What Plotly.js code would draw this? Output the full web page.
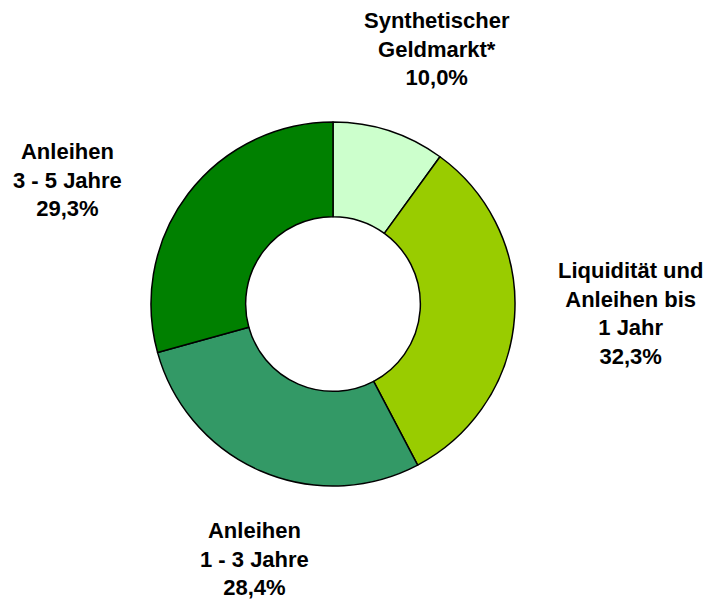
<!DOCTYPE html>
<html>
<head>
<meta charset="utf-8">
<script src="https://cdn.plot.ly/plotly-3.0.1.min.js"></script>
<style>html,body{margin:0;padding:0;background:#fff;}#chart{width:708px;height:603px;}</style>
</head>
<body>
<div id="chart"></div>
<script>
const categories = ["Synthetischer<br>Geldmarkt*", "Liquidität und<br>Anleihen bis<br>1 Jahr", "Anleihen<br>1 - 3 Jahre", "Anleihen<br>3 - 5 Jahre"];
const values = [10.0, 32.3, 28.4, 29.3];
const valueLabels = ["10,0%", "32,3%", "28,4%", "29,3%"];
const colors = ["#CCFFCC", "#99CC00", "#339966", "#008000"];
const labelPos = [[437, 49], [630, 313], [254, 559], [67, 180]];

const W = 708, H = 603;
const cx = 333, cy = 304, r = 182;

const trace = {
  type: "pie",
  values: values,
  labels: categories,
  sort: false,
  direction: "clockwise",
  rotation: 0,
  hole: 0.48,
  textinfo: "none",
  hoverinfo: "none",
  marker: {colors: colors, line: {color: "#000000", width: 1.5}},
  domain: {x: [(cx - r) / W, (cx + r) / W], y: [1 - (cy + r) / H, 1 - (cy - r) / H]},
  showlegend: false
};

const annotations = categories.map((c, i) => ({
  xref: "paper", yref: "paper",
  x: labelPos[i][0] / W, y: 1 - labelPos[i][1] / H,
  xanchor: "center", yanchor: "middle",
  text: "<b>" + c + "<br>" + valueLabels[i] + "</b>",
  showarrow: false,
  align: "center",
  font: {family: "Liberation Sans, Arial, sans-serif", size: 22, color: "#000000"}
}));

Plotly.newPlot("chart", [trace], {
  width: W, height: H,
  margin: {l: 0, r: 0, t: 0, b: 0},
  paper_bgcolor: "#ffffff",
  plot_bgcolor: "#ffffff",
  annotations: annotations
}, {displayModeBar: false, staticPlot: true});
</script>
</body>
</html>
